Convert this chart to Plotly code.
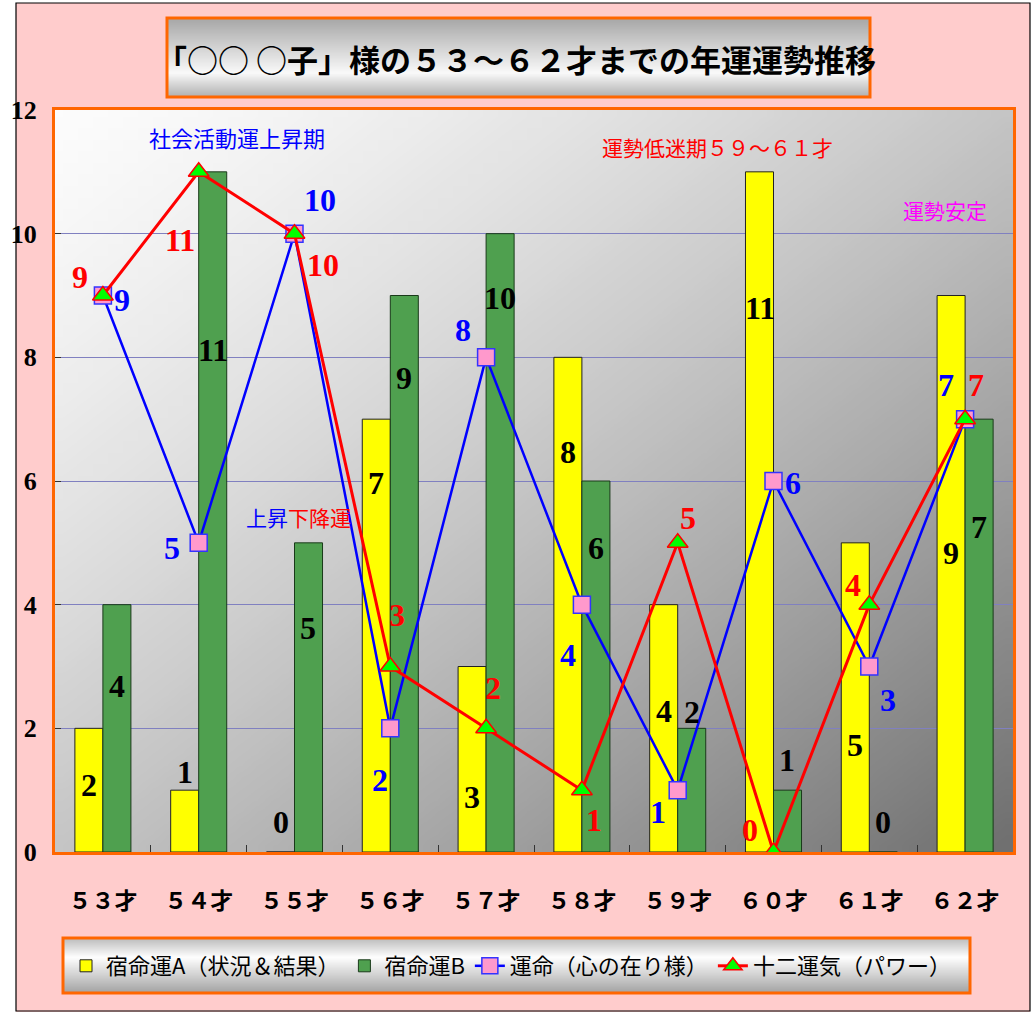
import base64, struct, zlib
import plotly.graph_objects as go

# ---------------- data ----------------
categories = ["５３才", "５４才", "５５才", "５６才", "５７才", "５８才", "５９才", "６０才", "６１才", "６２才"]
shukumei_a = [2, 1, 0, 7, 3, 8, 4, 11, 5, 9]
shukumei_b = [4, 11, 5, 9, 10, 6, 2, 1, 0, 7]
unmei = [9, 5, 10, 2, 8, 4, 1, 6, 3, 7]
juni_unki = [9, 11, 10, 3, 2, 1, 5, 0, 4, 7]

series_names = ["宿命運A（状況＆結果）", "宿命運B", "運命（心の在り様）", "十二運気（パワー）"]
title_text = "「○○ ○子」様の５３～６２才までの年運運勢推移"

# label placement (y in data units, x offset in category units)
label_y_a = [1.08, 1.29, 0.49, 5.97, 0.89, 6.47, 2.28, 8.80, 1.73, 4.84]
label_y_b = [2.68, 8.12, 3.62, 7.67, 8.96, 4.92, 2.26, 1.49, 0.49, 5.26]
label_dx_unmei = [0.20, -0.28, 0.27, -0.11, -0.24, -0.15, -0.21, 0.20, 0.19, -0.20]
label_y_unmei = [8.93, 4.92, 10.55, 1.16, 8.44, 3.19, 0.65, 5.97, 2.46, 7.55]
label_dx_juni = [-0.24, -0.20, 0.30, 0.07, 0.07, 0.13, 0.11, -0.25, -0.17, 0.11]
label_y_juni = [9.30, 9.90, 9.49, 3.83, 2.65, 0.52, 5.40, 0.36, 4.32, 7.55]

# ---------------- geometry helpers ----------------
W, H = 1034, 1012
PL, PR, PT, PB = 55, 1013, 110, 852


def pxx(px):
    return (px - PL) / (PR - PL)


def pxy(py):
    return (PB - py) / (PB - PT)


def png_uri(w, h, fn):
    rows = []
    for j in range(h):
        row = bytearray(b"\x00")
        for i in range(w):
            row.extend(fn(i / (w - 1), j / (h - 1)))
        rows.append(bytes(row))
    raw = b"".join(rows)

    def chunk(t, d):
        c = struct.pack(">I", len(d)) + t + d
        return c + struct.pack(">I", zlib.crc32(t + d) & 0xFFFFFFFF)

    png = (b"\x89PNG\r\n\x1a\n"
           + chunk(b"IHDR", struct.pack(">IIBBBBB", w, h, 8, 2, 0, 0, 0))
           + chunk(b"IDAT", zlib.compress(raw))
           + chunk(b"IEND", b""))
    return "data:image/png;base64," + base64.b64encode(png).decode()


def plot_grad(u, v):
    t = (u + v) / 2
    c = int(252 - 140 * (t ** 1.35))
    return (c, c, c)


def lerp_stops(stops, t):
    for (t0, c0), (t1, c1) in zip(stops, stops[1:]):
        if t <= t1:
            f = (t - t0) / (t1 - t0) if t1 > t0 else 0
            return int(c0 + (c1 - c0) * f)
    return stops[-1][1]


def title_grad(u, v):
    c = lerp_stops([(0, 168), (0.7, 250), (1, 178)], v)
    return (c, c, c)


def legend_grad(u, v):
    c = lerp_stops([(0, 190), (0.35, 255), (1, 165)], v)
    return (c, c, c)


# ---------------- figure ----------------
fig = go.Figure()

fig.add_trace(go.Bar(x=categories, y=shukumei_a, name=series_names[0],
                     marker=dict(color="#FFFF00", line=dict(color="#222222", width=1))))
fig.add_trace(go.Bar(x=categories, y=shukumei_b, name=series_names[1],
                     marker=dict(color="#4FA04F", line=dict(color="#1A3A1A", width=1))))
fig.add_trace(go.Scatter(x=categories, y=unmei, name=series_names[2], mode="lines+markers",
                         line=dict(color="#0000FF", width=2.5),
                         marker=dict(symbol="square", size=17, color="#FF99CC",
                                     line=dict(color="#3333FF", width=1.5))))
fig.add_trace(go.Scatter(x=categories, y=juni_unki, name=series_names[3], mode="lines+markers",
                         line=dict(color="#FF0000", width=3),
                         marker=dict(symbol="triangle-up", size=18, color="#00FF00",
                                     line=dict(color="#FF0000", width=1.5))))

annotations = []
num_font = dict(family="Liberation Serif, Times New Roman, serif", size=32, weight="bold")
bar_dx = 0.146
for i in range(len(categories)):
    annotations.append(dict(x=i - bar_dx, y=label_y_a[i], xref="x", yref="y", text=str(shukumei_a[i]),
                            showarrow=False, font=dict(num_font, color="black")))
    annotations.append(dict(x=i + bar_dx, y=label_y_b[i], xref="x", yref="y", text=str(shukumei_b[i]),
                            showarrow=False, font=dict(num_font, color="black")))
    annotations.append(dict(x=i + label_dx_unmei[i], y=label_y_unmei[i], xref="x", yref="y",
                            text=str(unmei[i]), showarrow=False, font=dict(num_font, color="#0000FF")))
    annotations.append(dict(x=i + label_dx_juni[i], y=label_y_juni[i], xref="x", yref="y",
                            text=str(juni_unki[i]), showarrow=False, font=dict(num_font, color="#FF0000")))

jp = "Noto Sans CJK JP"
annotations += [
    dict(x=1.40, y=11.56, xref="x", yref="y", text="社会活動運上昇期", showarrow=False,
         font=dict(family=jp, size=22, color="#0000FF")),
    dict(x=6.42, y=11.40, xref="x", yref="y", text="運勢低迷期５９～６１才", showarrow=False,
         font=dict(family=jp, size=21, color="#FF0000")),
    dict(x=8.79, y=10.38, xref="x", yref="y", text="運勢安定", showarrow=False,
         font=dict(family=jp, size=21, color="#FF00FF")),
    dict(x=2.04, y=5.42, xref="x", yref="y",
         text='<span style="color:#0000FF">上昇</span><span style="color:#FF0000">下降運</span>',
         showarrow=False, font=dict(family=jp, size=21)),
    dict(x=pxx(516), y=pxy(58), xref="paper", yref="paper", xanchor="center", yanchor="middle",
         text=title_text, showarrow=False,
         font=dict(family=jp, size=31, color="black", weight="bold")),
]

shapes = [
    # white strips outside the pink frame
    dict(type="rect", xref="paper", yref="paper", x0=pxx(-5), x1=pxx(16), y0=pxy(H + 5), y1=pxy(-5),
         fillcolor="white", line=dict(width=0), layer="below"),
    dict(type="rect", xref="paper", yref="paper", x0=pxx(1030), x1=pxx(W + 5), y0=pxy(H + 5), y1=pxy(-5),
         fillcolor="white", line=dict(width=0), layer="below"),
    dict(type="rect", xref="paper", yref="paper", x0=pxx(-5), x1=pxx(W + 5), y0=pxy(3), y1=pxy(-5),
         fillcolor="white", line=dict(width=0), layer="below"),
    # frame border
    dict(type="rect", xref="paper", yref="paper", x0=pxx(16), x1=pxx(1030), y0=pxy(1011), y1=pxy(3),
         line=dict(color="black", width=1.2), layer="below"),
    # title box border
    dict(type="rect", xref="paper", yref="paper", x0=pxx(167), x1=pxx(870), y0=pxy(97), y1=pxy(18),
         line=dict(color="#FF6600", width=3), layer="below"),
    # legend box border
    dict(type="rect", xref="paper", yref="paper", x0=pxx(63), x1=pxx(970), y0=pxy(993), y1=pxy(938),
         line=dict(color="#FF6600", width=3), layer="below"),
]

images = [
    dict(source=png_uri(64, 64, plot_grad), xref="paper", yref="paper", x=0, y=1, sizex=1, sizey=1,
         xanchor="left", yanchor="top", sizing="stretch", layer="below"),
    dict(source=png_uri(8, 48, title_grad), xref="paper", yref="paper", x=pxx(167), y=pxy(18),
         sizex=pxx(870) - pxx(167), sizey=pxy(18) - pxy(97), xanchor="left", yanchor="top",
         sizing="stretch", layer="below"),
    dict(source=png_uri(8, 48, legend_grad), xref="paper", yref="paper", x=pxx(63), y=pxy(938),
         sizex=pxx(970) - pxx(63), sizey=pxy(938) - pxy(993), xanchor="left", yanchor="top",
         sizing="stretch", layer="below"),
]

fig.update_layout(
    width=W, height=H,
    margin=dict(l=PL, r=W - PR, t=PT, b=H - PB, pad=0),
    paper_bgcolor="#FFCCCC",
    plot_bgcolor="rgba(0,0,0,0)",
    barmode="group", bargap=0.415, bargroupgap=0,
    showlegend=True,
    legend=dict(orientation="h", x=pxx(66), xanchor="left", y=pxy(966), yanchor="middle",
                bgcolor="rgba(0,0,0,0)", font=dict(family=jp, size=22, color="black"),
                itemwidth=30, tracegroupgap=0),
    annotations=annotations, shapes=shapes, images=images,
    xaxis=dict(type="category", range=[-0.5, 9.5], showgrid=False, showline=True, mirror=True,
               linecolor="#FF6600", linewidth=3, ticks="inside", tickson="boundaries", ticklen=7,
               tickcolor="#333333", ticklabelstandoff=26, layer="below traces",
               tickfont=dict(family=jp, size=23, color="black", weight="bold")),
    yaxis=dict(range=[0, 12], dtick=2, showgrid=True, gridcolor="#8080C0", gridwidth=1,
               showline=True, mirror=True, linecolor="#FF6600", linewidth=3, zeroline=False,
               ticks="inside", ticklen=6, tickcolor="#333333", ticklabelstandoff=10,
               layer="below traces",
               tickfont=dict(family="Liberation Serif, Times New Roman, serif", size=26,
                             color="black", weight="bold")),
)

fig.write_html("out.html", config={"displayModeBar": False},
               post_script="document.body.style.margin='0';document.body.style.overflow='hidden';")
